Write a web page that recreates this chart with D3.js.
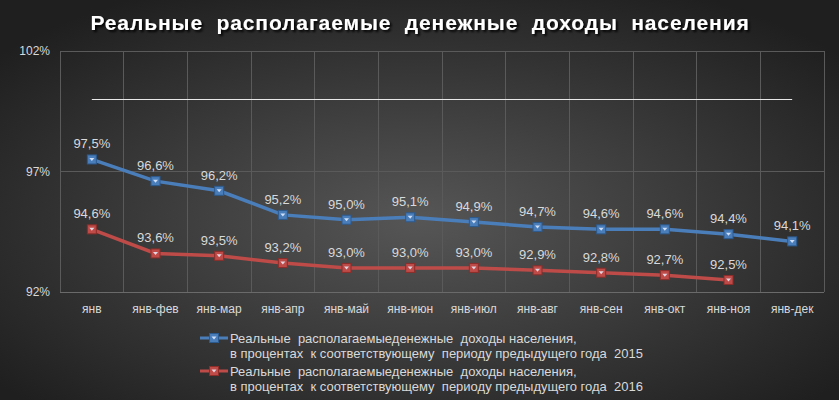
<!DOCTYPE html>
<html><head><meta charset="utf-8">
<script src="https://cdn.jsdelivr.net/npm/d3@7"></script>
<style>body{margin:0;background:#333;} svg{display:block;}</style>
</head><body>
<svg id="c" width="839" height="400"></svg>
<script>
const categories = ["янв","янв-фев","янв-мар","янв-апр","янв-май","янв-июн","янв-июл","янв-авг","янв-сен","янв-окт","янв-ноя","янв-дек"];
const values2015 = [97.5,96.6,96.2,95.2,95.0,95.1,94.9,94.7,94.6,94.6,94.4,94.1];
const values2016 = [94.6,93.6,93.5,93.2,93.0,93.0,93.0,92.9,92.8,92.7,92.5];
const yTicks = [92,97,102];
const referenceLevel = 100;
const titleText = "Реальные  располагаемые  денежные  доходы  населения";
const legend2015 = ["Реальные  располагаемыеденежные  доходы населения,","в процентах  к соответствующему  периоду предыдущего года  2015"];
const legend2016 = ["Реальные  располагаемыеденежные  доходы населения,","в процентах  к соответствующему  периоду предыдущего года  2016"];

const W=839,H=400;
const svg=d3.select("#c");
const defs=svg.append("defs");
const rg=defs.append("radialGradient").attr("id","bg").attr("cx","50%").attr("cy","55%").attr("r","65%");
rg.append("stop").attr("offset","0%").attr("stop-color","#565656");
rg.append("stop").attr("offset","100%").attr("stop-color","#1f1f1f");
const f=defs.append("filter").attr("id","sh").attr("x","-10%").attr("y","-50%").attr("width","120%").attr("height","200%");
f.append("feDropShadow").attr("dx",2).attr("dy",2).attr("stdDeviation",1.2).attr("flood-color","#000").attr("flood-opacity",0.9);

svg.append("rect").attr("width",W).attr("height",H).attr("fill","url(#bg)");

const m={l:60,r:824,t:51,b:292};
const x=d3.scaleBand().domain(categories).range([m.l,m.r]).padding(0);
const y=d3.scaleLinear().domain([92,102]).range([m.b,m.t]);
const cx=d=>x(d)+x.bandwidth()/2;

// gridlines
const g=svg.append("g");
g.selectAll("line.v").data(categories.concat(["__end"])).join("line")
 .attr("x1",(d,i)=>m.l+i*x.bandwidth()).attr("x2",(d,i)=>m.l+i*x.bandwidth())
 .attr("y1",m.t).attr("y2",m.b).attr("stroke","#5a5a5a").attr("stroke-width",1).attr("shape-rendering","crispEdges");
g.selectAll("line.h").data(yTicks).join("line")
 .attr("x1",m.l).attr("x2",m.r).attr("y1",d=>y(d)).attr("y2",d=>y(d))
 .attr("stroke",(d,i)=>i===0?"#6a6a6a":"#5a5a5a").attr("shape-rendering","crispEdges");

// y axis labels
const yAxis=d3.axisLeft(y).tickValues(yTicks).tickFormat(d=>d+"%").tickSize(0).tickPadding(10);
const ya=svg.append("g").attr("transform",`translate(${m.l},0)`).call(yAxis);
ya.select(".domain").remove();
ya.selectAll("text").attr("fill","#d9d9d9").style("font-family","Liberation Sans, Arial").style("font-size","12px");

// x axis labels
const xAxis=d3.axisBottom(x).tickSize(0).tickPadding(12);
const xa=svg.append("g").attr("transform",`translate(0,${m.b})`).call(xAxis);
xa.select(".domain").remove();
xa.selectAll("text").attr("fill","#d9d9d9").style("font-family","Liberation Sans, Arial").style("font-size","12px");

// reference line 100%
svg.append("line").attr("x1",cx(categories[0])).attr("x2",cx(categories[categories.length-1]))
 .attr("y1",Math.round(y(referenceLevel))+0.5).attr("y2",Math.round(y(referenceLevel))+0.5)
 .attr("stroke","#e8e8e8").attr("stroke-width",1);

const series=[{vals:values2015,color:"#4a7ebb",dark:"#2c5a8f",leg:legend2015},{vals:values2016,color:"#be4b48",dark:"#8c2d2a",leg:legend2016}];
const line=d3.line().x((d,i)=>cx(categories[i])).y(d=>y(d));

function marker(sel,color,dark){
  sel.append("rect").attr("x",-4.5).attr("y",-4.5).attr("width",9).attr("height",9)
   .attr("fill",color).attr("stroke",dark).attr("stroke-width",1);
  sel.append("path").attr("d","M-2.5,-1.5L2.5,-1.5L0,1.5Z").attr("fill","#e8f0ff").attr("opacity",0.85);
}

series.forEach(s=>{
  svg.append("path").datum(s.vals).attr("d",line).attr("fill","none").attr("stroke",s.color).attr("stroke-width",3.5);
  const pts=svg.append("g").selectAll("g").data(s.vals).join("g")
   .attr("transform",(d,i)=>`translate(${cx(categories[i])},${y(d)})`);
  pts.each(function(){marker(d3.select(this),s.color,s.dark);});
  svg.append("g").selectAll("text").data(s.vals).join("text")
   .attr("x",(d,i)=>cx(categories[i])).attr("y",d=>y(d)-11)
   .attr("text-anchor","middle").attr("fill","#d9d9d9")
   .style("font-family","Liberation Sans, Arial").style("font-size","13px")
   .text(d=>d.toFixed(1).replace(".",",")+"%");
});

// title
svg.append("text").attr("x",420).attr("y",30).attr("text-anchor","middle")
 .attr("fill","#ffffff").attr("filter","url(#sh)")
 .style("font-family","Liberation Sans, Arial").style("font-weight","bold").style("font-size","21px")
 .style("letter-spacing","0.9px").style("white-space","pre")
 .text(titleText);

// legend
const legY=[338,371];
series.forEach((s,k)=>{
  const ly=legY[k];
  svg.append("line").attr("x1",200).attr("x2",228).attr("y1",ly).attr("y2",ly).attr("stroke",s.color).attr("stroke-width",3);
  const mk=svg.append("g").attr("transform",`translate(214,${ly})`);
  marker(mk,s.color,s.dark);
  s.leg.forEach((t,j)=>{
    svg.append("text").attr("x",230).attr("y",ly+5+j*15).attr("fill","#d9d9d9")
     .style("font-family","Liberation Sans, Arial").style("font-size","13px").style("white-space","pre").text(t);
  });
});
</script>
</body></html>
